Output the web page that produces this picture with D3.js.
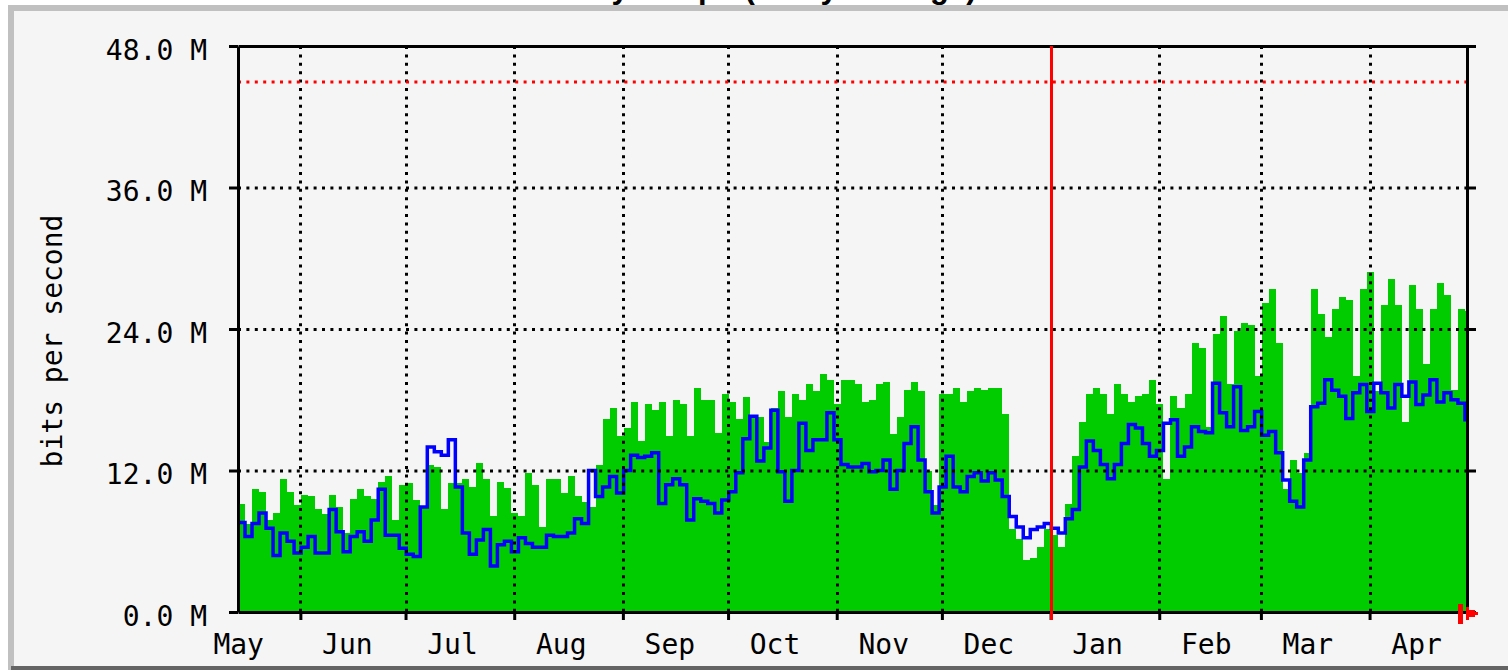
<!DOCTYPE html>
<html>
<head>
<meta charset="utf-8">
<script src="https://cdn.jsdelivr.net/npm/d3@7"></script>
<style>
body { margin: 0; background: #ffffff; }
svg { display: block; }
</style>
</head>
<body>
<div id="chart"></div>
<script>
// ===== yearly traffic, one value every 2 days (Mbit/s) =====
var inTraffic = [
    9.2, 7.5, 10.4, 10.2, 7.8, 8.4, 11.3, 10.2, 9.1, 9.9, 9.8, 8.7, 8.3, 9.9, 8.9, 6.7, 9.6, 10.4, 9.8, 9.6,
    11.0, 11.5, 7.8, 10.8, 10.9, 9.5, 9.0, 12.5, 12.3, 8.7, 10.9, 10.9, 11.3, 10.6, 12.6,
    11.3, 8.1, 11.0, 10.5, 8.4, 8.1, 11.8, 10.8, 7.2, 11.3, 11.3, 10.1, 11.5, 9.8, 9.3, 8.9, 12.5, 16.4, 17.3, 14.9,
    15.6, 17.8, 14.5, 17.6, 17.1, 17.8, 14.9, 18.0, 17.6, 14.9, 19.0, 18.0, 18.0, 15.2, 18.5,
    17.8, 16.4, 18.2, 16.6, 16.5, 14.4, 17.3, 18.7, 16.5, 18.5, 18.0, 19.3, 18.7, 20.2, 19.7, 17.6, 19.7, 19.7, 19.3, 17.8,
    18.0, 19.3, 19.5, 15.1, 16.5, 18.8, 19.5, 18.7, 12.0, 9.1, 18.5, 18.5, 19.0, 17.8, 18.7,
    19.0, 18.8, 19.0, 19.0, 16.8, 7.0, 6.2, 4.4, 4.6, 5.5, 7.0, 6.5, 5.5, 9.2, 13.2, 16.1, 18.5, 19.0, 18.5, 16.8,
    19.3, 18.5, 17.8, 18.3, 18.5, 19.7, 17.6, 11.3, 18.3, 17.3, 18.5, 22.8, 22.4, 15.7, 23.6,
    25.1, 19.3, 23.8, 24.5, 24.3, 20.0, 26.2, 27.4, 22.8, 10.4, 12.9, 11.8, 13.5, 27.4, 25.3, 23.3, 25.7, 26.7, 26.5, 20.0,
    27.4, 28.8, 18.7, 26.0, 28.2, 26.0, 16.1, 27.7, 25.7, 21.0, 25.7, 27.9, 26.9, 18.8, 25.7, 25.5
]
var outTraffic = [
    7.6, 6.4, 7.5, 8.4, 7.1, 4.8, 6.7, 6.0, 5.0, 5.5, 6.4, 5.0, 5.0, 8.7, 6.8, 5.1, 6.4, 6.8, 6.0, 7.8,
    10.4, 6.5, 6.5, 5.4, 4.9, 4.7, 8.9, 14.0, 13.6, 13.3, 14.6, 10.6, 6.7, 4.9, 6.1,
    7.0, 3.9, 5.7, 6.0, 5.1, 6.3, 5.8, 5.5, 5.5, 6.5, 6.4, 6.4, 6.7, 7.9, 7.5, 12.0, 9.8, 10.6, 11.5, 10.1,
    12.0, 13.3, 13.1, 13.2, 13.5, 9.2, 10.8, 11.3, 10.8, 7.8, 9.6, 9.4, 9.2, 8.4, 9.5,
    10.2, 11.8, 14.7, 16.6, 12.8, 13.9, 17.1, 11.9, 9.4, 12.0, 16.0, 13.7, 14.6, 14.6, 16.9, 14.6, 12.5, 12.3, 12.3, 12.6,
    11.9, 12.0, 12.9, 10.4, 12.0, 14.3, 15.7, 12.9, 10.2, 8.4, 10.6, 13.2, 10.6, 10.2, 11.5,
    11.8, 11.1, 11.8, 11.2, 9.8, 8.1, 7.2, 6.3, 7.0, 7.2, 7.5, 7.1, 6.7, 7.9, 8.7, 12.3, 14.5, 13.7, 12.5, 11.3,
    12.5, 14.3, 15.9, 15.6, 14.3, 13.2, 13.7, 16.0, 16.3, 13.2, 14.0, 15.7, 15.3, 15.2, 19.4,
    16.9, 15.7, 19.1, 15.4, 15.7, 17.0, 15.0, 15.3, 13.5, 11.2, 9.4, 8.9, 12.9, 17.4, 17.7, 19.7, 18.8, 18.3, 16.4, 18.6,
    19.3, 17.0, 19.4, 18.6, 17.3, 19.3, 18.3, 19.5, 17.6, 18.4, 19.7, 17.8, 18.6, 18.0, 17.7, 16.3
]
var yTicks = [0, 12, 24, 36, 48]
var gridValues = [12, 24, 36]
var maxSpeed = 45
var startDate = new Date(2007, 4, 14, 5)
var endDate = new Date(2008, 3, 28, 19)
var yearMark = new Date(2008, 0, 1)
var titleText = "`Yearly' Graph (1 Day Average)"
var yTitle = "bits per second"

var W = 1508, H = 670
var monoFont = "'DejaVu Sans Mono', 'Liberation Mono', monospace"

var svg = d3.select("#chart")
    .append("svg")
    .attr("width", W)
    .attr("height", H)

// panel with bevel border
svg.append("rect").attr("x", 8).attr("y", 5).attr("width", W - 8).attr("height", H - 5).attr("fill", "#c0c0c0")
svg.append("rect").attr("x", 11).attr("y", 666).attr("width", W - 11).attr("height", 4).attr("fill", "#646464")
svg.append("rect").attr("x", 14).attr("y", 11).attr("width", W - 14).attr("height", 655).attr("fill", "#f5f5f5")

// title sits above the crop, only its descenders show
svg.append("text")
    .text(titleText)
    .attr("x", 527)
    .attr("y", -2)
    .attr("font-family", "'Liberation Sans', Arial, sans-serif")
    .attr("font-weight", "bold")
    .attr("font-size", "31px")
    .attr("fill", "black")

var x = d3.scaleTime().domain([startDate, endDate]).range([238, 1467])
var y = d3.scaleLinear().domain([0, 48]).range([612, 46])

function toPoints(arr){
    var pts = arr.map(function(v, i){
        return {date: d3.timeHour.offset(startDate, 48 * i), v: v}
    })
    pts.push({date: d3.timeHour.offset(startDate, 48 * arr.length), v: arr[arr.length - 1]})
    return pts
}

svg.append("clipPath").attr("id", "plotclip")
    .append("rect")
    .attr("x", x.range()[0]).attr("y", y(48))
    .attr("width", x.range()[1] - x.range()[0])
    .attr("height", y(0) - y(48))

var plot = svg.append("g").attr("clip-path", "url(#plotclip)")

var area = d3.area()
    .x(function(d){ return x(d.date) })
    .y0(y(0))
    .y1(function(d){ return y(d.v) })
    .curve(d3.curveStepAfter)

plot.append("path")
    .attr("d", area(toPoints(inTraffic)))
    .attr("fill", "#00cc00")
    .attr("shape-rendering", "crispEdges")

var line = d3.line()
    .x(function(d){ return x(d.date) })
    .y(function(d){ return y(d.v) })
    .curve(d3.curveStepAfter)

plot.append("path")
    .attr("d", line(toPoints(outTraffic)))
    .attr("fill", "none")
    .attr("stroke", "#0000ff")
    .attr("stroke-width", 3.5)
    .attr("stroke-linejoin", "miter")

// dotted grid on top of the data
var months = d3.timeMonth.range(d3.timeMonth.ceil(startDate), endDate)

svg.selectAll(".hgrid")
    .data(gridValues)
    .enter()
    .append("line")
    .attr("x1", x.range()[0]).attr("x2", x.range()[1])
    .attr("y1", function(d){ return y(d) + 0.5 })
    .attr("y2", function(d){ return y(d) + 0.5 })
    .attr("stroke", "black")
    .attr("stroke-width", 3)
    .attr("stroke-dasharray", "3,5.4")

svg.selectAll(".vgrid")
    .data(months.filter(function(m){ return +m !== +yearMark }))
    .enter()
    .append("line")
    .attr("x1", function(d){ return Math.round(x(d)) + 0.5 })
    .attr("x2", function(d){ return Math.round(x(d)) + 0.5 })
    .attr("y1", y(48)).attr("y2", y(0))
    .attr("stroke", "black")
    .attr("stroke-width", 3)
    .attr("stroke-dasharray", "3,5.4")

// max speed line
svg.append("line")
    .attr("x1", x.range()[0]).attr("x2", x.range()[1])
    .attr("y1", y(maxSpeed) + 0.5).attr("y2", y(maxSpeed) + 0.5)
    .attr("stroke", "#ff0000")
    .attr("stroke-width", 3)
    .attr("stroke-dasharray", "3,5.4")

// axes
var yAxis = d3.axisLeft(y)
    .tickValues(yTicks)
    .tickSize(9)
    .tickSizeOuter(0)
    .tickPadding(22)
    .tickFormat(function(d){ return d.toFixed(1) + " M" })

var gy = svg.append("g")
    .attr("transform", "translate(" + x.range()[0] + ",0)")
    .call(yAxis)
gy.selectAll("path, line").attr("stroke", "black").attr("stroke-width", 3)
gy.selectAll("text")
    .attr("dy", "13px")
    .attr("font-family", monoFont)
    .attr("font-size", "28px")
    .attr("fill", "black")

var gr = svg.append("g")
    .attr("transform", "translate(" + x.range()[1] + ",0)")
    .call(d3.axisRight(y).tickValues(yTicks).tickSize(9).tickSizeOuter(0).tickFormat(""))
gr.selectAll("path, line").attr("stroke", "black").attr("stroke-width", 3)

var gt = svg.append("g")
    .attr("transform", "translate(0," + y(48) + ")")
    .call(d3.axisTop(x).tickValues([]).tickSizeOuter(0))
gt.selectAll("path").attr("stroke", "black").attr("stroke-width", 3)

var gx = svg.append("g")
    .attr("transform", "translate(0," + y(0) + ")")
    .call(d3.axisBottom(x).tickValues(months).tickSize(8).tickSizeOuter(0).tickFormat(""))
gx.selectAll("path, line").attr("stroke", "black").attr("stroke-width", 3)

// month names sit inside each month
var labelMonths = d3.timeMonth.range(d3.timeMonth.floor(startDate), endDate)
svg.selectAll(".mlabel")
    .data(labelMonths)
    .enter()
    .append("text")
    .text(function(d){ return d3.timeFormat("%b")(d) })
    .attr("x", function(d){ return x(d) + 47 })
    .attr("y", 654)
    .attr("text-anchor", "middle")
    .attr("font-family", monoFont)
    .attr("font-size", "28px")
    .attr("fill", "black")

// year boundary
svg.append("line")
    .attr("x1", Math.round(x(yearMark)) + 0.5).attr("x2", Math.round(x(yearMark)) + 0.5)
    .attr("y1", y(48)).attr("y2", y(0) + 8)
    .attr("stroke", "#ff0000")
    .attr("stroke-width", 3)

// "now" arrow at the right end
var ax = x.range()[1], ay = y(0)
svg.append("rect")
    .attr("x", ax - 9).attr("y", ay - 8).attr("width", 5).attr("height", 20)
    .attr("fill", "#ff0000")
svg.append("path")
    .attr("d", "M" + (ax - 1) + "," + (ay - 5) + "h3v3h6v2h3v3h-3v2h-6v3h-3z")
    .attr("fill", "#ff0000")

// y title
svg.append("text")
    .text(yTitle)
    .attr("transform", "translate(62,341) rotate(-90)")
    .attr("text-anchor", "middle")
    .attr("font-family", monoFont)
    .attr("font-size", "28px")
    .attr("fill", "black")
</script>
</body>
</html>
